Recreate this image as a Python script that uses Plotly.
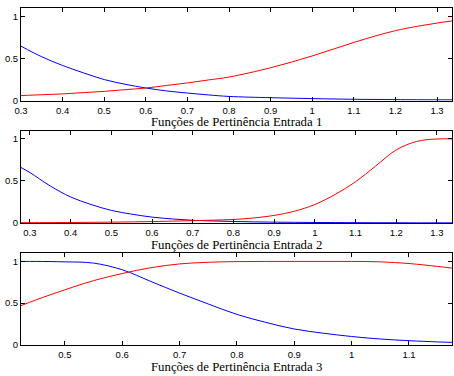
import plotly.graph_objects as go

# Panel 1
x1 = [0.3, 0.35, 0.4, 0.45, 0.5, 0.55, 0.6, 0.65, 0.7, 0.75, 0.8, 0.9, 1.0, 1.1, 1.2, 1.3, 1.336]
blue1 = [0.646, 0.52, 0.417, 0.33, 0.25, 0.195, 0.15, 0.115, 0.09, 0.068, 0.05, 0.035, 0.024, 0.016, 0.012, 0.01, 0.01]
red1 = [0.06, 0.07, 0.08, 0.095, 0.11, 0.13, 0.15, 0.18, 0.21, 0.245, 0.28, 0.39, 0.53, 0.69, 0.83, 0.92, 0.945]

# Panel 2
x2 = [0.278, 0.3, 0.35, 0.4, 0.45, 0.5, 0.55, 0.6, 0.65, 0.7, 0.75, 0.8, 0.85, 0.9, 0.95, 1.0, 1.05, 1.1, 1.15, 1.2, 1.25, 1.3, 1.337]
blue2 = [0.66, 0.6, 0.44, 0.31, 0.22, 0.15, 0.105, 0.07, 0.048, 0.032, 0.024, 0.018, 0.013, 0.01, 0.008, 0.006, 0.005, 0.004, 0.003, 0.003, 0.002, 0.002, 0.002]
red2 = [0.003, 0.004, 0.005, 0.006, 0.008, 0.01, 0.013, 0.017, 0.022, 0.028, 0.034, 0.042, 0.06, 0.09, 0.14, 0.22, 0.34, 0.49, 0.68, 0.87, 0.97, 1.0, 1.0]

# Panel 3
x3 = [0.4235, 0.45, 0.5, 0.55, 0.6, 0.65, 0.7, 0.75, 0.8, 0.85, 0.9, 0.95, 1.0, 1.05, 1.1, 1.15, 1.175]
blue3 = [1.0, 1.0, 0.995, 0.98, 0.9, 0.76, 0.62, 0.49, 0.365, 0.27, 0.19, 0.14, 0.1, 0.07, 0.05, 0.035, 0.03]
red3 = [0.47, 0.54, 0.66, 0.77, 0.855, 0.925, 0.97, 0.99, 0.998, 1.0, 1.0, 1.0, 1.0, 0.995, 0.975, 0.94, 0.92]

titles = ["Funções de Pertinência Entrada 1", "Funções de Pertinência Entrada 2", "Funções de Pertinência Entrada 3"]
xranges = [[0.3, 1.336], [0.278, 1.337], [0.4235, 1.175]]
xticks = [[0.3, 0.4, 0.5, 0.6, 0.7, 0.8, 0.9, 1.0, 1.1, 1.2, 1.3],
          [0.3, 0.4, 0.5, 0.6, 0.7, 0.8, 0.9, 1.0, 1.1, 1.2, 1.3],
          [0.5, 0.6, 0.7, 0.8, 0.9, 1.0, 1.1]]
yticks = [0, 0.5, 1]
yticktext = ["0", "0.5", "1"]

H = 376
W = 454
panels_px = [(8, 102), (132.3, 226), (256.5, 349.5)]
label_y_px = [123.5, 248, 371.5]

fig = go.Figure()
data = [(x1, blue1, red1), (x2, blue2, red2), (x3, blue3, red3)]
for i, (xs, b, r) in enumerate(data):
    sfx = "" if i == 0 else str(i + 1)
    fig.add_trace(go.Scatter(x=xs, y=b, mode="lines", line=dict(color="#0000ff", width=1, shape="spline"),
                             xaxis="x" + sfx, yaxis="y" + sfx, showlegend=False))
    fig.add_trace(go.Scatter(x=xs, y=r, mode="lines", line=dict(color="#ff0000", width=1, shape="spline"),
                             xaxis="x" + sfx, yaxis="y" + sfx, showlegend=False))

axis_common = dict(showline=True, linecolor="black", linewidth=1, mirror="ticks", ticks="inside",
                   ticklen=4, tickcolor="black", showgrid=False, zeroline=False,
                   tickfont=dict(family="Liberation Sans, Arial", size=9.5, color="black"))

layout = dict(width=W, height=H, margin=dict(l=21, r=2, t=0, b=0), plot_bgcolor="white",
              paper_bgcolor="white", showlegend=False)
annotations = []
for i in range(3):
    sfx = "" if i == 0 else str(i + 1)
    top, bot = panels_px[i]
    dom = [(H - bot) / H, (H - top) / H]
    layout["xaxis" + sfx] = dict(axis_common, range=xranges[i], tickvals=xticks[i],
                                 ticktext=[("%g" % v) for v in xticks[i]],
                                 ticklabelstandoff=1,
                                 anchor="y" + sfx, domain=[0, 1])
    layout["yaxis" + sfx] = dict(axis_common, range=[0, 1.1], tickvals=yticks, ticktext=yticktext,
                                 anchor="x" + sfx, domain=dom)
    annotations.append(dict(text=titles[i], xref="paper", yref="paper", x=0.5,
                            y=(H - label_y_px[i]) / H, yanchor="middle", xanchor="center",
                            showarrow=False,
                            font=dict(family="Liberation Serif, Times New Roman, serif", size=12.8, color="black")))
layout["annotations"] = annotations
fig.update_layout(**layout)
fig.write_html("out.html")
